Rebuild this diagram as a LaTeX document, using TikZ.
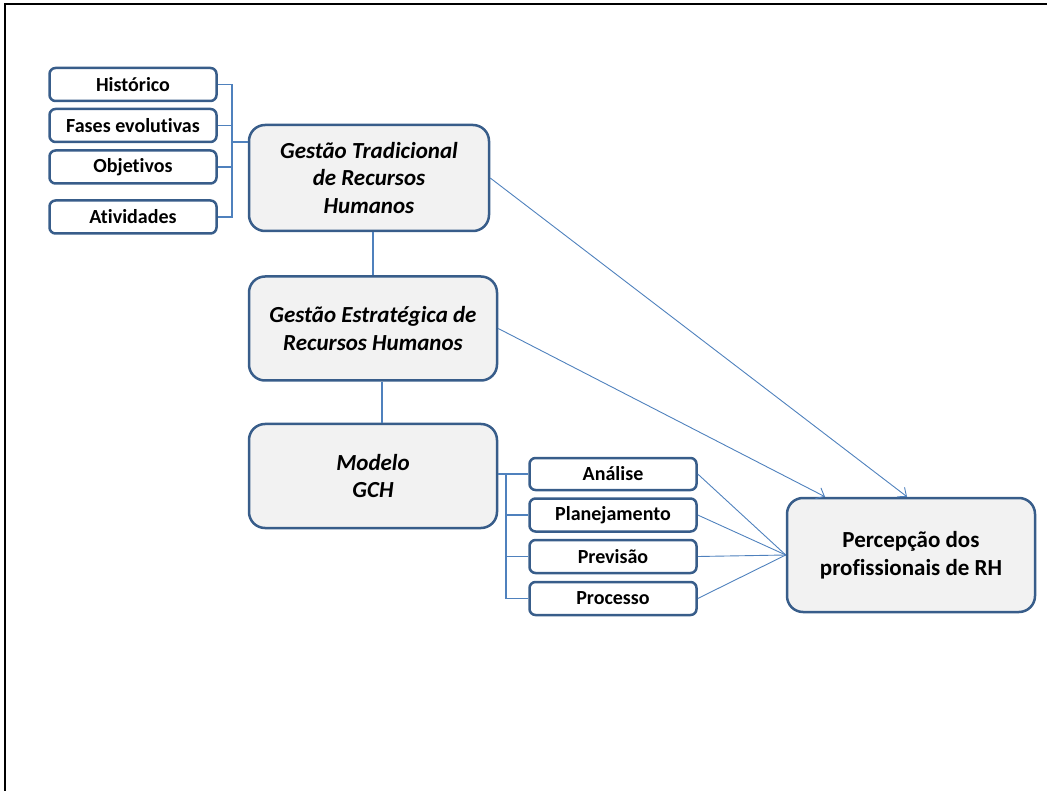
\documentclass[tikz,border=0pt]{standalone}
\usepackage{fontspec}
\setmainfont{Carlito}[Ligatures=NoCommon]
\usetikzlibrary{arrows.meta,calc}
\definecolor{boxline}{RGB}{56,93,138}
\definecolor{boxfill}{RGB}{242,242,242}
\definecolor{link}{RGB}{79,129,189}
\begin{document}
\begin{tikzpicture}[x=1pt,y=-1pt,
  smallbox/.style={draw=boxline,line width=2.5pt,fill=white,rounded corners=6pt,
    minimum width=167pt,minimum height=33pt,inner sep=0pt,
    font=\fontsize{20}{24}\selectfont\bfseries},
  bigbox/.style={draw=boxline,line width=2.5pt,fill=boxfill,rounded corners=16pt,
    minimum width=248pt,minimum height=104pt,inner sep=0pt,align=center,
    font=\fontsize{23}{27.5}\selectfont\bfseries\itshape},
  conn/.style={draw=link,line width=1.1pt},
  arr/.style={draw=link,line width=0.9pt,-{Straight Barb[length=7pt,width=12pt,line width=0.9pt]}},
  ray/.style={draw=link,line width=0.9pt}]
\useasboundingbox (0,0) rectangle (1047,791);
% outer frame (partly cut off)
\draw[line width=2.5pt] (5,795) |- (1050,4);

% left group
\node[smallbox] (hist)  at (133,84.5) {Histórico};
\node[smallbox] (fases) at (133,125.5) {Fases evolutivas};
\node[smallbox] (obj)   at (133,167) {Objetivos};
\node[smallbox] (ativ)  at (133,217) {Atividades};

% main column
\node[bigbox,minimum width=240pt,minimum height=106pt] (gtrh) at (369,178)
  {Gestão Tradicional\\de Recursos\\Humanos};
\node[bigbox] (gerh) at (373,328.5) {Gestão Estratégica de\\Recursos Humanos};
\node[bigbox] (gch)  at (373,476) {\raisebox{-2pt}{Modelo}\\\raisebox{-2pt}{GCH}};

% right group
\node[smallbox,minimum height=32pt] (anal) at (613,474) {Análise};
\node[smallbox] (plan) at (613,515) {Planejamento};
\node[smallbox] (prev) at (613,556.5) {Previsão};
\node[smallbox] (proc) at (613,598.5) {Processo};

% result
\node[bigbox,minimum height=114pt,font=\fontsize{23}{28}\selectfont\bfseries] (perc) at (911,555)
  {Percepção dos\\profissionais de RH};

% bracket joining the left group to the first block
\coordinate (lb) at (232,142);
\draw[conn] (hist.east) -- (hist.east -| lb) -- (ativ.east -| lb) -- (ativ.east);
\draw[conn] (fases.east) -- (fases.east -| lb);
\draw[conn] (obj.east) -- (obj.east -| lb);
\draw[conn] (lb) -- (gtrh.west |- lb);

% links down the main column
\draw[conn] (gerh.north) -- (gerh.north |- gtrh.south);
\draw[conn] ([xshift=9pt]gerh.south) -- ([xshift=9pt]gch.north);

% bracket joining the model to the right group
\coordinate (rb) at (506,474);
\draw[conn] (gch.east |- anal.west) -- (anal.west);
\draw[conn] (anal.west -| rb) -- (proc.west -| rb) -- (proc.west);
\draw[conn] (plan.west -| rb) -- (plan.west);
\draw[conn] (prev.west -| rb) -- (prev.west);

% arrows to the result
\draw[arr] (gtrh.east) -- ([xshift=-4pt]perc.north);
\draw[arr] (gerh.east) -- ([xshift=-86pt]perc.north);
\draw[ray] (anal.east) -- (perc.west);
\draw[ray] (plan.east) -- (perc.west);
\draw[ray] (prev.east) -- (perc.west);
\draw[ray] (proc.east) -- (perc.west);
\end{tikzpicture}
\end{document}
